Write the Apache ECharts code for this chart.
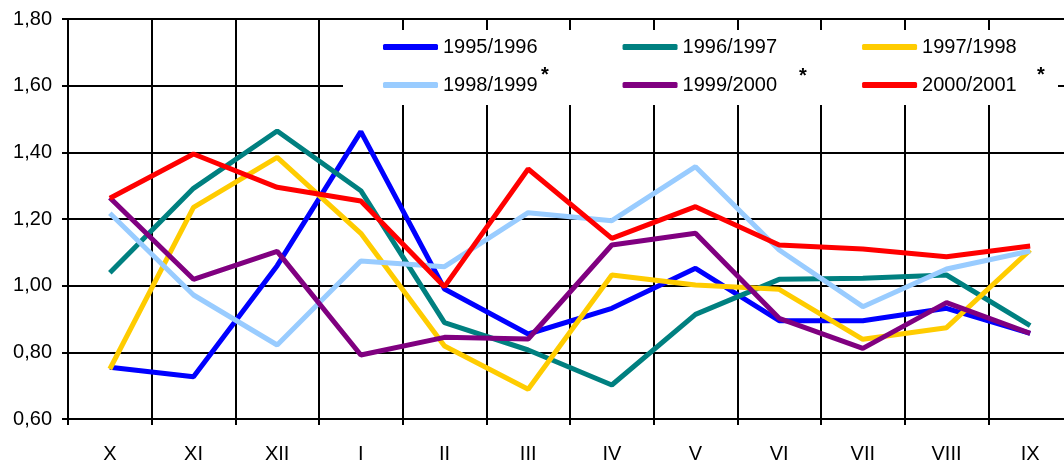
<!DOCTYPE html>
<html>
<head>
<meta charset="utf-8">
<script src="https://cdn.jsdelivr.net/npm/echarts@6/dist/echarts.min.js"></script>
<style>
  html, body { margin: 0; padding: 0; background: #fff; }
  #chart { width: 1064px; height: 464px; }
</style>
</head>
<body>
<div id="chart"></div>
<script>
// months of the season, October .. September
const months = ['X', 'XI', 'XII', 'I', 'II', 'III', 'IV', 'V', 'VI', 'VII', 'VIII', 'IX']

const s1995 = [0.755, 0.727, 1.06, 1.462, 0.99, 0.855, 0.932, 1.052, 0.895, 0.895, 0.932, 0.857]
const s1996 = [1.039, 1.292, 1.464, 1.285, 0.889, 0.807, 0.702, 0.914, 1.019, 1.022, 1.032, 0.88]
const s1997 = [0.75, 1.235, 1.385, 1.157, 0.819, 0.689, 1.032, 1.002, 0.989, 0.839, 0.874, 1.107]
const s1998 = [1.217, 0.972, 0.822, 1.074, 1.057, 1.219, 1.195, 1.357, 1.107, 0.937, 1.05, 1.104]
const s1999 = [1.264, 1.019, 1.103, 0.792, 0.845, 0.84, 1.122, 1.157, 0.902, 0.812, 0.949, 0.857]
const s2000 = [1.262, 1.395, 1.295, 1.254, 0.997, 1.35, 1.142, 1.237, 1.122, 1.11, 1.087, 1.119]

const seasons = ['1995/1996', '1996/1997', '1997/1998', '1998/1999', '1999/2000', '2000/2001']
const values = [s1995, s1996, s1997, s1998, s1999, s2000]
const colors = ['#0000ff', '#008080', '#ffcc00', '#99ccff', '#800080', '#ff0000']

const font = '"Liberation Sans", Arial, sans-serif'

const legendBase = {
  orient: 'horizontal',
  left: 383,
  padding: 0,
  itemGap: 85,
  itemWidth: 55,
  itemHeight: 6,
  icon: 'roundRect',
  selectedMode: false,
  textStyle: { color: '#000', fontSize: 20, fontFamily: font, padding: [6, 0, 0, 0] }
}

const chart = echarts.init(document.getElementById('chart'))
chart.setOption({
  animation: false,
  color: colors,
  // the plot runs a little past the right edge of the picture
  grid: { left: 68, top: 19, bottom: 45, right: -8, outerBoundsMode: 'none' },
  legend: [
    { ...legendBase, top: 37, data: seasons.slice(0, 3) },
    { ...legendBase, top: 75, data: seasons.slice(3) }
  ],
  graphic: [
    // white box behind the legend
    { type: 'rect', z: 3, shape: { x: 343, y: 30, width: 715, height: 75 }, style: { fill: '#fff' } },
    { type: 'text', z: 5, x: 545, y: 75, style: { text: '*', font: 'bold 20px ' + font, fill: '#000', textAlign: 'center', textVerticalAlign: 'middle' } },
    { type: 'text', z: 5, x: 803, y: 76, style: { text: '*', font: 'bold 20px ' + font, fill: '#000', textAlign: 'center', textVerticalAlign: 'middle' } },
    { type: 'text', z: 5, x: 1041, y: 75, style: { text: '*', font: 'bold 20px ' + font, fill: '#000', textAlign: 'center', textVerticalAlign: 'middle' } }
  ],
  xAxis: {
    type: 'category',
    data: months,
    boundaryGap: true,
    axisLine: { lineStyle: { color: '#000', width: 2 } },
    axisTick: { show: true, length: 6, lineStyle: { color: '#000', width: 2 } },
    axisLabel: { color: '#000', fontSize: 20, fontFamily: font, margin: 25 },
    splitLine: { show: true, lineStyle: { color: '#000', width: 2 } }
  },
  yAxis: {
    type: 'value',
    min: 0.6,
    max: 1.8,
    interval: 0.2,
    axisLine: { show: true, lineStyle: { color: '#000', width: 2 } },
    axisTick: { show: true, length: 6, lineStyle: { color: '#000', width: 2 } },
    axisLabel: {
      color: '#000',
      fontSize: 20,
      fontFamily: font,
      margin: 16,
      formatter: v => v.toFixed(2).replace('.', ',')
    },
    splitLine: { show: true, lineStyle: { color: '#000', width: 2 } }
  },
  series: seasons.map((name, i) => ({
    name: name,
    type: 'line',
    data: values[i],
    symbol: 'none',
    lineStyle: { width: 5, color: colors[i] }
  }))
})
</script>
</body>
</html>
